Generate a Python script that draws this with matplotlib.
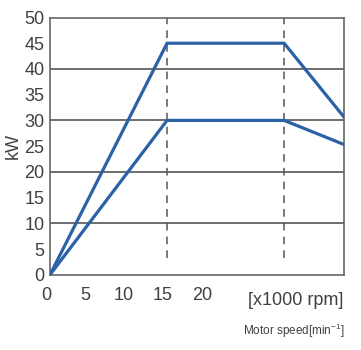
import matplotlib
matplotlib.use('Agg')
import matplotlib.pyplot as plt
import matplotlib.transforms as mtransforms

# motor output curves (speed in x1000 rpm, power in kW)
speed = [0, 15, 30, 37.7]
power_high = [0, 45, 45, 30.6]
power_low = [0, 30, 30, 25.3]
corner_speeds = [15, 30]
x_ticks = [0, 5, 10, 15, 20]
y_ticks = [0, 5, 10, 15, 20, 25, 30, 35, 40, 45, 50]
grid_levels = [10, 20, 30, 40]

plt.rcParams['font.family'] = ['Liberation Sans', 'DejaVu Sans']
txt = '#404040'
blue = '#2b62a6'

fig = plt.figure(figsize=(3.61, 3.5), dpi=100)
ax = fig.add_axes([0.1385, 0.215, 0.815, 0.735])

for g in grid_levels:
	ax.axhline(g, color='#555555', lw=1.2, zorder=1)
for c in corner_speeds:
	ax.plot([c, c], [3.3, 50], color='#555555', lw=1.1, dashes=(5, 4), zorder=1)

ax.plot(speed, power_high, color=blue, lw=2.3, zorder=3)
ax.plot(speed, power_low, color=blue, lw=2.3, zorder=3)

ax.set_xlim(0, 37.7)
ax.set_ylim(0, 50)
ax.set_xticks(x_ticks)
ax.set_yticks(y_ticks)
ax.tick_params(length=0, labelsize=13, labelcolor=txt)
ax.tick_params(axis='x', pad=9)
ax.tick_params(axis='y', pad=4)
# labels sit a little left of their positions in the original
shift = mtransforms.ScaledTranslation(-4 / 100, 0, fig.dpi_scale_trans)
for lab in ax.get_xticklabels():
	lab.set_transform(lab.get_transform() + shift)
for s in ax.spines.values():
	s.set_color('#666666')
	s.set_linewidth(1.2)
ax.set_ylabel('kW', fontsize=13, color=txt, labelpad=2)

fig.text(0.95, 0.142, '[x1000 rpm]', ha='right', va='center', fontsize=13, color=txt)
fig.text(0.955, 0.054, 'Motor speed[min$^{\\mathregular{-1}}$]', ha='right', va='center', fontsize=8.5, color=txt)

plt.savefig('out.png')
